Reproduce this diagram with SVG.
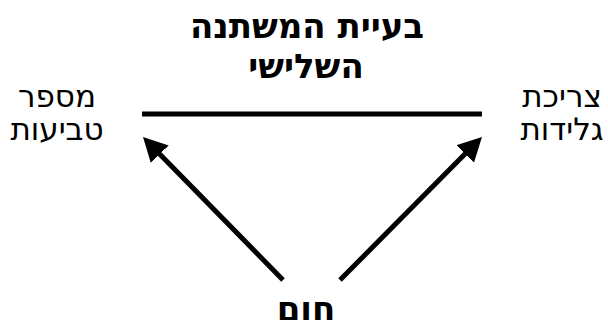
<svg xmlns="http://www.w3.org/2000/svg" width="608" height="320" viewBox="0 0 608 320">
<style>
text{font-family:"DejaVu Sans","Noto Sans",sans-serif;fill:#000;text-anchor:middle}
.t{font-weight:bold;font-size:34px}
.l{font-size:31px}
.c{stroke:#000;stroke-width:5;fill:none}
</style>
<defs>
<marker id="ah" markerUnits="userSpaceOnUse" markerWidth="24" markerHeight="25" viewBox="0 0 24 25" refX="9" refY="12.5" orient="auto">
<path d="M0,0 L24,12.5 L0,25 z" fill="#000"/>
</marker>
</defs>
<g id="title"><text class="t" x="307" y="38">בעיית המשתנה</text><text class="t" x="306" y="78">השלישי</text></g>
<g id="left"><text class="l" x="57" y="107">מספר</text><text class="l" x="57" y="140">טביעות</text></g>
<g id="right"><text class="l" x="562" y="107">צריכת</text><text class="l" x="562" y="140">גלידות</text></g>
<g id="bottom"><text class="t" x="306" y="321">חום</text></g>
<g id="connectors">
<line class="c" x1="142" y1="114" x2="482" y2="114"/>
<line class="c" x1="283" y1="280" x2="153.5" y2="147.7" marker-end="url(#ah)"/>
<line class="c" x1="340" y1="280" x2="471.4" y2="147.6" marker-end="url(#ah)"/>
</g>
</svg>
